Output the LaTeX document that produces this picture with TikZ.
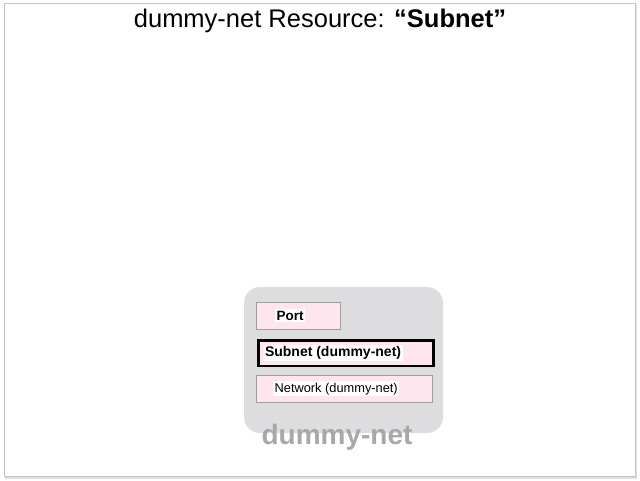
\documentclass[tikz,border=0pt]{standalone}
\usepackage{fontspec}
\setmainfont{Liberation Sans}
\usetikzlibrary{positioning}
\definecolor{slideframe}{RGB}{196, 196, 196}
\definecolor{plugin}{RGB}{221, 221, 224}
\definecolor{respink}{RGB}{255, 230, 238}
\definecolor{plugintext}{RGB}{168, 168, 168}
\tikzset{%
    resource/.style={%
        draw=gray!75,
        fill=respink,
        minimum height=27pt,
        inner sep=0pt,
        anchor=north west
    },
    reslabel/.style={fill=white, inner sep=1.5pt, anchor=west}
}

\begin{document}
\begin{tikzpicture}[x=1pt, y=-1pt]
    \useasboundingbox (0, 0) rectangle (640, 480);

    % Slide
    \draw[black!12, line width=1.5pt] (6, 5) rectangle (636, 478);
    \draw[slideframe, fill=white] (4.5, 3.5) rectangle (635, 476.5);
    \node (title) at (320, 21)
        {\fontsize{25.5}{30}\selectfont dummy-net Resource: \textbf{“Subnet”}};

    % Plugin
    \fill[plugin, rounded corners=16pt] (244, 287) rectangle (443, 433);

    \node[resource, minimum width=84pt] (port) at (256, 302) {};
    \node[reslabel, font=\fontsize{13.5}{15}\selectfont\bfseries]
        (port-label) at ([xshift=19pt] port.west) {Port};

    \node[resource, draw=black, line width=2.5pt, minimum width=175pt, minimum height=25.5pt]
        (subnet) at (257.3, 339) {};
    \node[reslabel, font=\fontsize{14}{16}\selectfont\bfseries]
        (subnet-label) at ([xshift=6pt] subnet.west) {Subnet (dummy-net)};

    \node[resource, minimum width=176pt] (network) at (256, 375) {};
    \node[reslabel, font=\fontsize{12.8}{15}\selectfont]
        (network-label) at ([xshift=17pt] network.west) {Network (dummy-net)};

    \node[plugintext, font=\fontsize{28}{32}\selectfont\bfseries]
        (plugin-label) at (337, 437) {dummy-net};

\end{tikzpicture}
\end{document}
